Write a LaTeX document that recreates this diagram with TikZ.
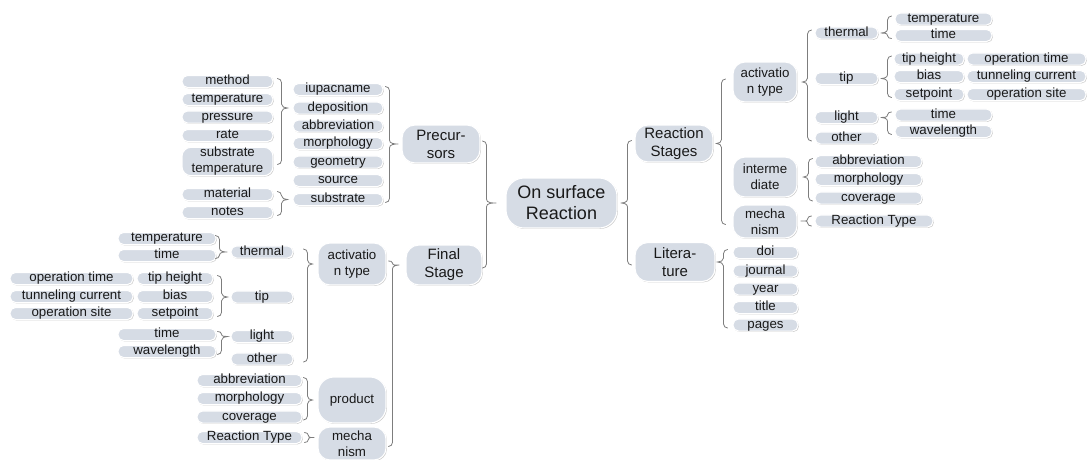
\documentclass[tikz,border=0pt]{standalone}
\usepackage{fontspec}
\setmainfont{Liberation Sans}
\usetikzlibrary{calc,shadows}
\definecolor{pillfill}{RGB}{214,220,229}
\definecolor{brcol}{RGB}{125,125,125}
\tikzset{
  base/.style={rectangle, fill=pillfill, draw=white, line width=1.1pt, inner sep=0pt, align=center, text=black!90,
    drop shadow={shadow xshift=0.9pt, shadow yshift=-0.9pt, opacity=0.35, fill=black!60}},
  leafb/.style={base, rounded corners=5.5pt, font=\fontsize{13.3}{16}\selectfont, minimum height=12pt},
  leaf/.style={leafb, text height=9.4pt, text depth=2.7pt},
  mid/.style={base, rounded corners=12pt, font=\fontsize{13.3}{16}\selectfont},
  lvl/.style={base, rounded corners=13pt, font=\fontsize{15}{18}\selectfont},
  rootn/.style={base, rounded corners=18pt, font=\fontsize{18}{21}\selectfont},
  brc/.style={draw=brcol, line width=0.8pt, line cap=round}
}
% brace: children on the left, parent on the right
\newcommand\bR[5]{%
\draw[brc] let \p1=(#1.center), \p2=(#2.center), \p3=(#3.west),
 \n1={\x3-#4pt}, \n2={\y1+3pt}, \n3={\y2-3pt}, \n4={\y3},
 \n5={max(0.5,min(4,(\n2-\n4)/2))}, \n6={max(0.5,min(4,(\n4-\n3)/2))},
 \n7={\n1-4}, \n8={\n2-\n5}, \n9={\n4+\n5}, \n{a}={\n4-\n6}, \n{b}={\n3+\n6}, \n{t}={\x3-#5pt}
 in ({\n7*1pt},{\n2*1pt}) to[out=0,in=90] ({\n1*1pt},{\n8*1pt})
 -- ({\n1*1pt},{\n9*1pt}) to[out=-90,in=180] ({\n{t}*1pt},{\n4*1pt})
 to[out=180,in=90] ({\n1*1pt},{\n{a}*1pt})
 -- ({\n1*1pt},{\n{b}*1pt}) to[out=-90,in=0] ({\n7*1pt},{\n3*1pt});}
% brace: parent on the left, children on the right
\newcommand\bL[5]{%
\draw[brc] let \p1=(#1.center), \p2=(#2.center), \p3=(#3.east),
 \n1={\x3+#4pt}, \n2={\y1+3pt}, \n3={\y2-3pt}, \n4={\y3},
 \n5={max(0.5,min(4,(\n2-\n4)/2))}, \n6={max(0.5,min(4,(\n4-\n3)/2))},
 \n7={\n1+4}, \n8={\n2-\n5}, \n9={\n4+\n5}, \n{a}={\n4-\n6}, \n{b}={\n3+\n6}, \n{t}={\x3+#5pt}
 in ({\n7*1pt},{\n2*1pt}) to[out=180,in=90] ({\n1*1pt},{\n8*1pt})
 -- ({\n1*1pt},{\n9*1pt}) to[out=-90,in=0] ({\n{t}*1pt},{\n4*1pt})
 to[out=0,in=90] ({\n1*1pt},{\n{a}*1pt})
 -- ({\n1*1pt},{\n{b}*1pt}) to[out=-90,in=180] ({\n7*1pt},{\n3*1pt});}
% single child connectors
\newcommand\sR[4]{%
\draw[brc] let \p1=(#1.center), \p3=(#2.west), \n1={\x3-#3pt}, \n7={\n1-4}, \n{t}={\x3-#4pt} in
 ({\n7*1pt},{\y1+5pt}) to[out=0,in=90] ({\n1*1pt},{\y1+2pt}) to[out=-90,in=180] ({\n{t}*1pt},\y1)
 to[out=180,in=90] ({\n1*1pt},{\y1-2pt}) to[out=-90,in=0] ({\n7*1pt},{\y1-5pt});}
\newcommand\sL[4]{%
\draw[brc] let \p1=(#1.center), \p3=(#2.east), \n1={\x3+#3pt}, \n7={\n1+4}, \n{t}={\x3+#4pt} in
 ({\n7*1pt},{\y1+5pt}) to[out=180,in=90] ({\n1*1pt},{\y1+2pt}) to[out=-90,in=0] ({\n{t}*1pt},\y1)
 to[out=0,in=90] ({\n1*1pt},{\y1-2pt}) to[out=-90,in=180] ({\n7*1pt},{\y1-5pt});}
\begin{document}
\begin{tikzpicture}[x=1pt,y=-1pt]
\useasboundingbox (0,0) rectangle (1087,459);
% root
\node[rootn, minimum width=111pt, minimum height=50pt] (root) at (561.5,203) {On surface\\Reaction};
% ===== left side =====
\node[lvl, minimum width=78pt, minimum height=38pt] (prec) at (441,144) {Precur-\\sors};
\node[lvl, minimum width=76pt, minimum height=40pt] (fin) at (444,265) {Final\\Stage};
% precursor children
\node[leaf, minimum width=90pt] (piupac) at (338,89.5) {iupacname};
\node[leaf, minimum width=90pt] (pdep) at (338,108) {deposition};
\node[leaf, minimum width=90pt] (pabbr) at (338,126) {abbreviation};
\node[leaf, minimum width=90pt] (pmorph) at (338,143.5) {morphology};
\node[leaf, minimum width=90pt] (pgeom) at (338,162) {geometry};
\node[leaf, minimum width=90pt] (psource) at (338,180.5) {source};
\node[leaf, minimum width=90pt] (psub) at (338,199.5) {substrate};
% deposition children
\node[leaf, minimum width=91pt] (dmethod) at (227.5,81.5) {method};
\node[leaf, minimum width=91pt] (dtemp) at (227.5,99.5) {temperature};
\node[leaf, minimum width=91pt] (dpress) at (227.5,117) {pressure};
\node[leaf, minimum width=91pt] (drate) at (227.5,135.5) {rate};
\node[leafb, minimum width=91pt, minimum height=27pt, rounded corners=9pt] (dsubt) at (227.5,161.5) {substrate\\temperature};
% substrate children
\node[leaf, minimum width=91pt] (smat) at (227.5,194.5) {material};
\node[leaf, minimum width=91pt] (snotes) at (227.5,212.5) {notes};
% final stage children
\node[mid, minimum width=68pt, minimum height=42pt] (fa) at (352,264) {activatio\\n type};
\node[mid, minimum width=68pt, minimum height=46pt, rounded corners=16pt] (fp) at (352,400) {product};
\node[mid, minimum width=68pt, minimum height=33pt] (fm) at (352,443.5) {mecha\\nism};
\node[leaf, minimum width=62pt] (fthermal) at (262,252) {thermal};
\node[leaf, minimum width=62pt] (ftip) at (262,297) {tip};
\node[leaf, minimum width=62pt] (flight) at (262,336.5) {light};
\node[leaf, minimum width=62pt] (fother) at (262,359) {other};
\node[leaf, minimum width=98pt] (ftt) at (167,238.5) {temperature};
\node[leaf, minimum width=98pt] (fttime) at (167,255.5) {time};
\node[leaf, minimum width=76pt] (fth) at (175,278.5) {tip height};
\node[leaf, minimum width=76pt] (fbias) at (175,296.5) {bias};
\node[leaf, minimum width=76pt] (fset) at (175,313.5) {setpoint};
\node[leaf, minimum width=123pt] (fopt) at (71.5,278.5) {operation time};
\node[leaf, minimum width=123pt] (ftun) at (71.5,296.5) {tunneling current};
\node[leaf, minimum width=123pt] (fops) at (71.5,313.5) {operation site};
\node[leaf, minimum width=98pt] (flt) at (167,334.5) {time};
\node[leaf, minimum width=98pt] (flw) at (167,351.5) {wavelength};
\node[leaf, minimum width=105pt] (fpa) at (249.5,380.5) {abbreviation};
\node[leaf, minimum width=105pt] (fpm) at (249.5,398.5) {morphology};
\node[leaf, minimum width=105pt] (fpc) at (249.5,417) {coverage};
\node[leaf, minimum width=105pt] (fmr) at (249.5,437.5) {Reaction Type};
% ===== right side =====
\node[lvl, minimum width=78pt, minimum height=37pt] (rs) at (674,143.5) {Reaction\\Stages};
\node[lvl, minimum width=80pt, minimum height=39pt] (lit) at (675,262) {Litera-\\ture};
\node[mid, minimum width=64pt, minimum height=40pt] (ra) at (765,82) {activatio\\n type};
\node[mid, minimum width=64pt, minimum height=40pt] (ri) at (765,177) {interme\\diate};
\node[mid, minimum width=64pt, minimum height=33pt] (rm) at (765,221.5) {mecha\\nism};
\node[leaf, minimum width=63pt] (rthermal) at (846.5,33) {thermal};
\node[leaf, minimum width=63pt] (rtip) at (846.5,78.5) {tip};
\node[leaf, minimum width=63pt] (rlight) at (846.5,117.5) {light};
\node[leaf, minimum width=63pt] (rother) at (846.5,138) {other};
\node[leaf, minimum width=97pt] (rtt) at (943.5,19) {temperature};
\node[leaf, minimum width=97pt] (rttime) at (943.5,35.5) {time};
\node[leaf, minimum width=70pt] (rth) at (929,59) {tip height};
\node[leaf, minimum width=70pt] (rbias) at (929,76.5) {bias};
\node[leaf, minimum width=70pt] (rset) at (929,94.5) {setpoint};
\node[leaf, minimum width=119pt] (ropt) at (1026.5,59) {operation time};
\node[leaf, minimum width=119pt] (rtun) at (1026.5,76.5) {tunneling current};
\node[leaf, minimum width=119pt] (rops) at (1026.5,94.5) {operation site};
\node[leaf, minimum width=97pt] (rlt) at (943.5,115) {time};
\node[leaf, minimum width=97pt] (rlw) at (943.5,131.5) {wavelength};
\node[leaf, minimum width=107pt] (ria) at (868.5,161.5) {abbreviation};
\node[leaf, minimum width=107pt] (rim) at (868.5,179.5) {morphology};
\node[leaf, minimum width=107pt] (ric) at (868.5,198) {coverage};
\node[leaf, minimum width=118pt] (rmr) at (874,221) {Reaction Type};
\node[leaf, minimum width=65pt] (ldoi) at (765.5,252.5) {doi};
\node[leaf, minimum width=65pt] (ljournal) at (765.5,271) {journal};
\node[leaf, minimum width=65pt] (lyear) at (765.5,289) {year};
\node[leaf, minimum width=65pt] (ltitle) at (765.5,307.5) {title};
\node[leaf, minimum width=65pt] (lpages) at (765.5,325) {pages};
% ===== connectors =====
\bR{prec}{fin}{root}{19}{9}
\bR{piupac}{psub}{prec}{12}{3}
\bR{dmethod}{dsubt}{pdep}{11}{5}
\bR{smat}{snotes}{psub}{11}{5}
\bR{fa}{fm}{fin}{13}{6}
\bR{fthermal}{fother}{fa}{10}{5}
\bR{ftt}{fttime}{fthermal}{11}{3}
\bR{fth}{fset}{ftip}{9}{3}
\bR{flt}{flw}{flight}{9}{3}
\bR{fpa}{fpc}{fp}{10}{5}
\sR{fmr}{fm}{9}{3}
\bL{rs}{lit}{root}{10}{3}
\bL{ra}{rm}{rs}{8}{3}
\bL{rthermal}{rother}{ra}{10}{5}
\bL{rtt}{rttime}{rthermal}{9}{2}
\bL{rth}{rset}{rtip}{9}{2}
\bL{rlt}{rlw}{rlight}{9}{2}
\bL{ria}{ric}{ri}{11}{6}
\sL{rmr}{rm}{10}{3}
\bL{ldoi}{lpages}{lit}{8}{2}
\end{tikzpicture}
\end{document}
